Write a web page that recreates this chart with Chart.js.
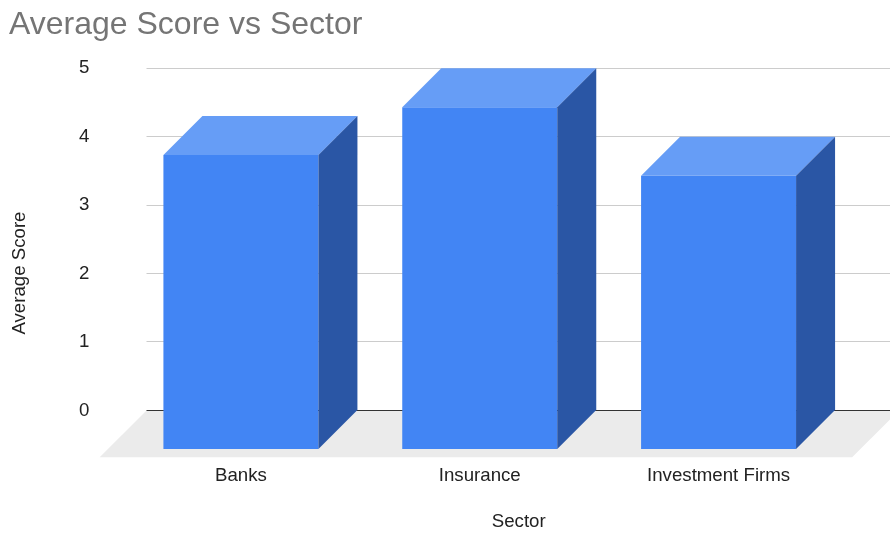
<!DOCTYPE html>
<html>
<head>
<meta charset="utf-8">
<title>Average Score vs Sector</title>
<script src="https://cdn.jsdelivr.net/npm/chart.js@4.4.1/dist/chart.umd.min.js"></script>
<style>
	html, body { margin: 0; padding: 0; background: #fff; }
	#wrap { width: 890px; height: 533px; }
</style>
</head>
<body>
<div id="wrap"><canvas id="scoreChart"></canvas></div>
<script>
// Data
const sectors = ["Banks", "Insurance", "Investment Firms"];
const averageScores = [4.3, 5.0, 4.0];
const yTicks = [0, 1, 2, 3, 4, 5];

// 3D look
const BAR_DEPTH = 39;
const FRONT_COLOR = "#4285f4";
const TOP_COLOR = "#669df6";
const SIDE_COLOR = "#2a56a5";
const FLOOR_COLOR = "#ebebeb";
const FONT = "'Liberation Sans', Arial, sans-serif";
const TEXT_COLOR = "#222222";

function setTicks(axis) {
	axis.ticks = yTicks.map((v) => ({ value: v }));
}

function gridColor(ctx) {
	return ctx.tick && ctx.tick.value === 0 ? "#333333" : "#cccccc";
}

// grey floor under the bars
const floorPlugin = {
	id: "floor",
	beforeDraw(chart) {
		const { ctx, chartArea, scales } = chart;
		const back = scales.y.getPixelForValue(0);
		const depth = chartArea.bottom - back;
		const left = chartArea.left - 14;
		const right = chartArea.right + 22;
		ctx.save();
		ctx.fillStyle = FLOOR_COLOR;
		ctx.beginPath();
		ctx.moveTo(left, back);
		ctx.lineTo(right, back);
		ctx.lineTo(right - depth, chartArea.bottom);
		ctx.lineTo(left - depth, chartArea.bottom);
		ctx.closePath();
		ctx.fill();
		ctx.restore();
	},
};

// front face is the library's bar moved forward, top and side faces added
const bars3dPlugin = {
	id: "bars3d",
	beforeDatasetsDraw(chart) {
		chart.ctx.save();
		chart.ctx.translate(-BAR_DEPTH, BAR_DEPTH);
	},
	afterDatasetsDraw(chart) {
		const ctx = chart.ctx;
		const d = BAR_DEPTH;
		ctx.restore();
		ctx.save();
		chart.getDatasetMeta(0).data.forEach((bar) => {
			const { x, y, base, width } = bar.getProps(["x", "y", "base", "width"], true);
			const l = x - width / 2;
			const r = x + width / 2;

			ctx.fillStyle = TOP_COLOR;
			ctx.beginPath();
			ctx.moveTo(l - d, y + d);
			ctx.lineTo(r - d, y + d);
			ctx.lineTo(r, y);
			ctx.lineTo(l, y);
			ctx.closePath();
			ctx.fill();

			ctx.fillStyle = SIDE_COLOR;
			ctx.beginPath();
			ctx.moveTo(r - d, y + d);
			ctx.lineTo(r, y);
			ctx.lineTo(r, base);
			ctx.lineTo(r - d, base + d);
			ctx.closePath();
			ctx.fill();
		});
		ctx.restore();
	},
};

new Chart(document.getElementById("scoreChart"), {
	type: "bar",
	data: {
		labels: sectors,
		datasets: [
			{
				label: "Average Score",
				data: averageScores,
				backgroundColor: FRONT_COLOR,
				borderWidth: 0,
				barPercentage: 0.649,
				categoryPercentage: 1,
				clip: false,
			},
		],
	},
	options: {
		responsive: true,
		maintainAspectRatio: false,
		animation: false,
		layout: {
			padding: { left: 9, top: 0, right: 0, bottom: 0 },
		},
		plugins: {
			legend: { display: false },
			tooltip: { enabled: false },
			title: {
				display: true,
				text: "Average Score vs Sector",
				align: "start",
				color: "#757575",
				font: { family: FONT, size: 32, weight: "normal" },
				padding: { top: 3, bottom: 23.5 },
			},
		},
		scales: {
			x: {
				grid: { display: false, drawTicks: false },
				border: { display: false },
				ticks: {
					color: TEXT_COLOR,
					font: { family: FONT, size: 18.67 },
					padding: 7,
					labelOffset: -BAR_DEPTH,
					maxRotation: 0,
					autoSkip: false,
				},
				title: {
					display: true,
					text: "Sector",
					color: TEXT_COLOR,
					font: { family: FONT, size: 18.67 },
					padding: { top: 17, bottom: 0 },
				},
			},
			y: {
				position: "left",
				min: -0.684,
				max: 5,
				afterBuildTicks: setTicks,
				afterFit: (axis) => {
					axis.width = 151.5;
				},
				grid: { color: gridColor, tickLength: 14, lineWidth: 1 },
				border: { display: false },
				ticks: {
					color: TEXT_COLOR,
					font: { family: FONT, size: 18.67 },
					padding: 57,
				},
				title: {
					display: true,
					// trailing spaces nudge the rotated title down a little
					text: "Average Score\u00a0\u00a0\u00a0\u00a0",
					color: TEXT_COLOR,
					font: { family: FONT, size: 18.67 },
					padding: 0,
				},
			},
			y2: {
				position: "right",
				min: -0.684,
				max: 5,
				afterBuildTicks: setTicks,
				afterFit: (axis) => {
					axis.width = 13;
				},
				grid: { color: gridColor, tickLength: 13, drawOnChartArea: false },
				border: { display: false },
				ticks: { display: false },
			},
		},
	},
	plugins: [floorPlugin, bars3dPlugin],
});
</script>
</body>
</html>
